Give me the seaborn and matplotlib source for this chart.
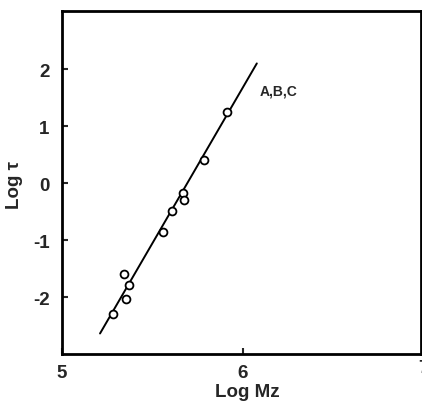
import matplotlib
matplotlib.use("Agg")
import matplotlib.pyplot as plt
import seaborn as sns
import pandas as pd

# measured points: log of z-average molecular weight vs log of relaxation time
log_mz = [5.280, 5.343, 5.352, 5.372, 5.560, 5.608, 5.667, 5.672, 5.785, 5.912]
log_tau = [-2.29, -1.60, -2.04, -1.79, -0.86, -0.49, -0.18, -0.30, 0.40, 1.24]

# straight-line relation drawn through the points
fit_x = [5.21, 6.076]
fit_y = [-2.64, 2.10]

x_ticks = [5, 6, 7]
y_ticks = [-2, -1, 0, 1, 2]
series_label = "A,B,C"

sns.set_theme(style="ticks")
plt.rcParams["font.family"] = ["Liberation Sans", "DejaVu Sans"]

fig = plt.figure(figsize=(4.22, 4.02), dpi=100)
ax = fig.add_axes([62 / 422, 1 - 355 / 402, (420.5 - 62) / 422, (355 - 12) / 402])

pts = pd.DataFrame({"x": log_mz, "y": log_tau})
line = pd.DataFrame({"x": fit_x, "y": fit_y})

sns.lineplot(data=line, x="x", y="y", ax=ax, color="black", linewidth=1.4)
sns.scatterplot(data=pts, x="x", y="y", ax=ax, marker="o", s=32,
                facecolor="white", edgecolor="black", linewidth=1.3, zorder=3)

ax.text(6.094, 1.63, series_label, fontsize=10, fontweight="bold",
        va="center", ha="left")

ax.set_xlim(5, 6.98)
ax.set_ylim(-3.0, 3.02)
ax.set_xticks([5, 6])
ax.set_yticks(y_ticks)
ax.set_xticklabels(["5", "6"])
ax.set_yticklabels([str(t) for t in y_ticks])
ax.tick_params(direction="in", length=4, width=1.5, labelsize=13.5)
ax.tick_params(axis="x", pad=7)
ax.tick_params(axis="y", pad=9)
for lab in ax.get_xticklabels() + ax.get_yticklabels():
    lab.set_fontweight("bold")
for sp in ax.spines.values():
    sp.set_linewidth(2)
    sp.set_color("black")

# label for x = 7 sits at the right edge of the frame
fig.text(423 / 422, 1 - 369 / 402, "7", fontsize=13.5, fontweight="bold",
         ha="center", va="center")

ax.set_xlabel("Log Mz", fontsize=13.5, fontweight="bold")
ax.xaxis.set_label_coords((247 - 62) / (420.5 - 62), -(393 - 355) / (355 - 12))
ax.xaxis.label.set_va("center")
ax.set_ylabel("Log τ", fontsize=13.5, fontweight="bold")
ax.yaxis.set_label_coords(-(62 - 15) / (420.5 - 62), (355 - 185) / (355 - 12))
ax.yaxis.label.set_va("center")

fig.savefig("out.png", dpi=100)
